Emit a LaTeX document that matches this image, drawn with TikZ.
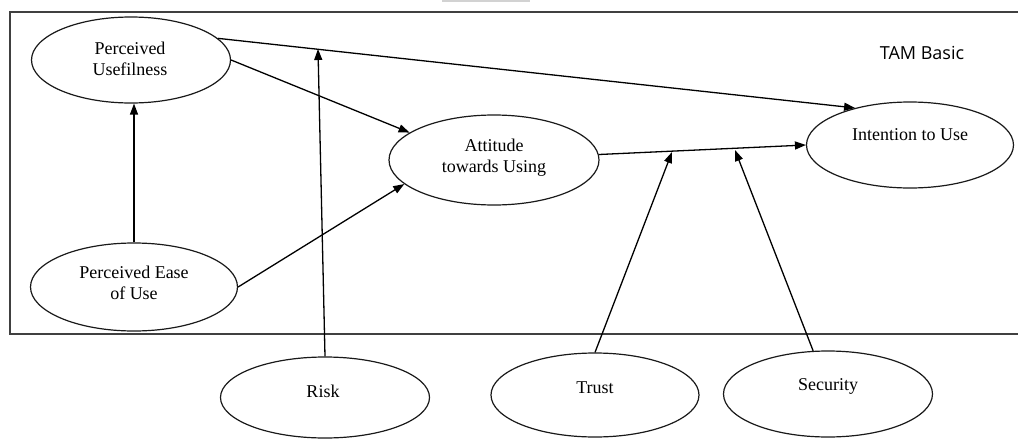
\documentclass[tikz,border=0pt]{standalone}
\usepackage{fontspec}
\setmainfont{Liberation Serif}
\newfontfamily\tamfont{Open Sans}
\usetikzlibrary{arrows.meta,shapes.geometric,calc}
\begin{document}
\begin{tikzpicture}[x=1pt,y=-1pt,
  ell/.style={draw=black!90,line width=1.2pt,ellipse,inner sep=0pt},
  lbl/.style={font=\fontsize{18}{21}\selectfont,align=center,inner sep=0pt},
  arr/.style={draw=black,line width=1.3pt,-{Triangle[length=11pt,width=8pt]}},
  frame/.style={draw=black!75,line width=1.5pt}]
\useasboundingbox (0,0) rectangle (1018,439);
\fill[gray!35] (442,0) rectangle (530,1.5);
\draw[frame] (1018,12) -| (10,334) -- (1018,334);
% ellipses
\node[ell,minimum width=199pt,minimum height=86pt] (pu) at (131,60) {};
\node[ell,minimum width=207pt,minimum height=88pt] (peou) at (134,287) {};
\node[ell,minimum width=210pt,minimum height=90pt] (att) at (494,160) {};
\node[ell,minimum width=207pt,minimum height=86pt] (int) at (910,145) {};
\node[ell,minimum width=209pt,minimum height=81pt] (risk) at (325,397.5) {};
\node[ell,minimum width=208pt,minimum height=84pt] (trust) at (595,395) {};
\node[ell,minimum width=209pt,minimum height=86pt] (sec) at (828,394) {};
% labels
\node[lbl] (pu-t) at (130,59) {Perceived\\Usefilness};
\node[lbl] (peou-t) at (134,283) {Perceived Ease\\of Use};
\node[lbl] (att-t) at (494,158) {Attitude\\towards Using};
\node[lbl] (int-t) at (910,134.5) {Intention to Use};
\node[lbl] (risk-t) at (323,391) {Risk};
\node[lbl] (trust-t) at (595,388) {Trust};
\node[lbl] (sec-t) at (828,386) {Security};
\node[font=\tamfont\fontsize{18}{20}\selectfont,inner sep=0pt] (tam) at (922,53) {TAM Basic};
% connectors
\draw[arr] (peou.north) -- (peou.north |- pu.south);
\draw[arr] (pu.east) -- (att.162);
\draw[arr] (peou.east) -- (att.195);
\draw[arr] (pu.14) -- (int.146);
\draw[arr] (att.3) -- (int.west);
\coordinate (rtip) at (318,49);
\coordinate (ttip) at (672,152);
\coordinate (stip) at (735,150);
\draw[arr] (risk.north) -- (rtip);
\draw[arr] (trust.north) -- (ttip);
\draw[arr] (sec.109) -- (stip);
\end{tikzpicture}
\end{document}
